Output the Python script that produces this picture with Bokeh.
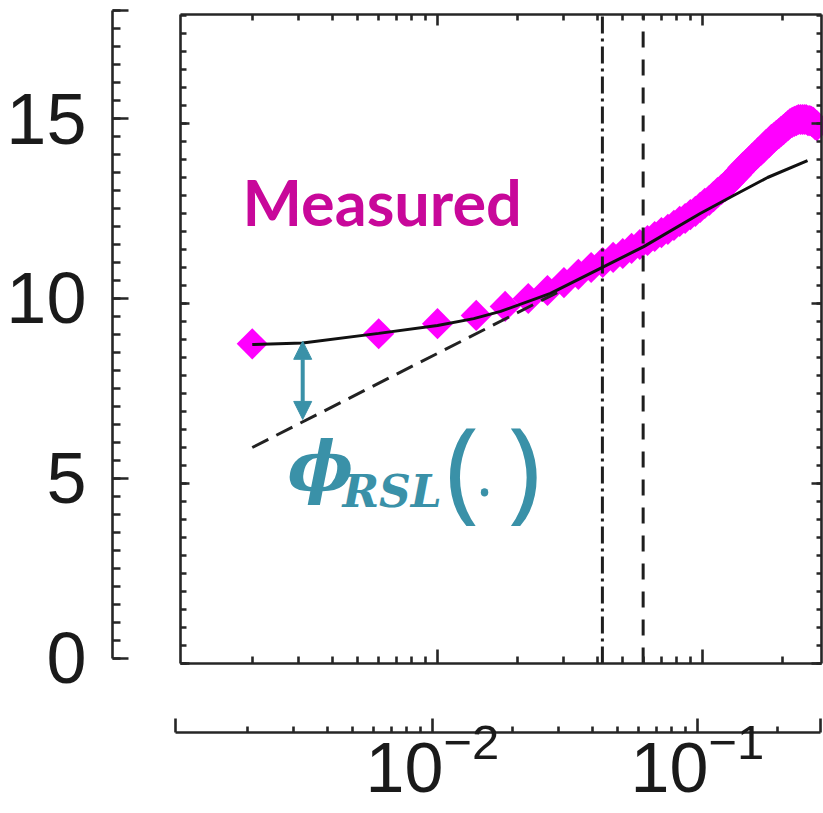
import math
from bokeh.plotting import figure
from bokeh.models import (LinearAxis, LogAxis, Range1d, FixedTicker, Label, Arrow,
                          NormalHead, ColumnDataSource, LogTickFormatter, LogScale)
from bokeh.embed import file_html
from bokeh.resources import INLINE

# ---------------- data ----------------
measured_x = [0.002, 0.006, 0.010, 0.014, 0.018, 0.022, 0.026, 0.030, 0.034, 0.038,
              0.042, 0.046, 0.050, 0.054, 0.058, 0.062, 0.066, 0.070, 0.074, 0.078,
              0.082, 0.086, 0.090, 0.094, 0.098, 0.102, 0.106, 0.110, 0.114, 0.118,
              0.122, 0.126, 0.130, 0.134, 0.138, 0.142, 0.146, 0.150, 0.154, 0.158,
              0.162, 0.166, 0.170, 0.174, 0.178, 0.182, 0.186, 0.190, 0.194, 0.198,
              0.202, 0.206, 0.210, 0.214, 0.218, 0.222, 0.226, 0.230, 0.234, 0.238,
              0.242, 0.246, 0.250, 0.254, 0.258, 0.262, 0.266, 0.270]
measured_y = [8.88, 9.16, 9.44, 9.67, 9.92, 10.14, 10.36, 10.58, 10.81, 11.00,
              11.14, 11.28, 11.39, 11.53, 11.64, 11.75, 11.86, 11.97, 12.06, 12.17,
              12.28, 12.36, 12.47, 12.56, 12.67, 12.78, 12.86, 12.97, 13.08, 13.17,
              13.25, 13.36, 13.47, 13.56, 13.67, 13.78, 13.86, 13.94, 14.03, 14.11,
              14.19, 14.25, 14.33, 14.42, 14.47, 14.56, 14.61, 14.67, 14.72, 14.78,
              14.83, 14.89, 14.94, 15.00, 15.03, 15.06, 15.08, 15.11, 15.11, 15.11,
              15.11, 15.11, 15.08, 15.08, 15.06, 15.03, 14.97, 14.94]

model_x = [0.002, 0.0031, 0.006, 0.010, 0.0137, 0.0173, 0.0267, 0.041, 0.060,
           0.098, 0.131, 0.176, 0.249]
model_y = [8.86, 8.90, 9.17, 9.39, 9.58, 9.78, 10.28, 10.97, 11.58,
           12.50, 13.00, 13.50, 13.97]

loglaw_x = [0.002, 0.030]
loglaw_y = [6.0, 10.4]

vline_dashdot_x = [0.0419]
vline_dash_x = [0.0597]

y_major_ticks = [0, 5, 10, 15]
y_minor_ticks = [0.5 * k for k in range(37)]
x_major_ticks = [0.01, 0.1]
x_minor_ticks = [0.002, 0.003, 0.004, 0.005, 0.006, 0.007, 0.008, 0.009,
                 0.02, 0.03, 0.04, 0.05, 0.06, 0.07, 0.08, 0.09, 0.2]

measured_label = "Measured"
phi_label = "\u03d5"
phi_sub_label = "RSL"

# arrow between curves (phi_RSL gap)
arrow_x = 0.0031
arrow_y_low = 6.78
arrow_y_high = 8.95

# ---------------- geometry ----------------
W, H = 823, 813
XSTART, XEND = 2.244e-4, 0.2861           # whole canvas = frame
YSTART, YEND = -4.1667, 18.4167
XOFF = (2.344e-4, 0.2989)                 # offset bottom axis range (5 px shift)
YOFF = (-4.3056, 18.2778)                 # offset left axis range (5 px shift)
XBOX0, XBOX1 = 1.072e-3, 0.2812           # boxed panel edges
YBOX0, YBOX1 = 0.0, 18.03
X_LEFT_AXIS = 5.936e-4                    # where the offset left axis sits
Y_BOTTOM_AXIS = -1.9167                   # where the offset bottom axis sits

AX = "#262626"
TEAL = "#3A91A8"
MAG = "#FF00FF"
MEAS = "#C8089A"

p = figure(width=W, height=H, x_axis_type="log",
           x_axis_location=None, y_axis_location=None,
           x_range=Range1d(XSTART, XEND), y_range=Range1d(YSTART, YEND),
           toolbar_location=None, output_backend="svg",
           min_border_left=0, min_border_right=0,
           min_border_top=0, min_border_bottom=0,
           outline_line_color=None, background_fill_color="white",
           border_fill_color="white")
p.xgrid.visible = False
p.ygrid.visible = False
p.extra_x_ranges = {"xoff": Range1d(*XOFF)}
p.extra_x_scales = {"xoff": LogScale()}
p.extra_y_ranges = {"yoff": Range1d(*YOFF)}


def style(ax, lw=2.6, line=True):
    ax.axis_line_color = AX if line else None
    ax.axis_line_width = lw
    ax.major_tick_line_color = AX
    ax.minor_tick_line_color = AX
    ax.major_tick_line_width = lw
    ax.minor_tick_line_width = lw
    ax.major_tick_out = 0
    ax.minor_tick_out = 0


def quiet(ax):
    ax.major_label_text_color = None


# ---- boxed panel (inward ticks on all four sides, no labels) ----
box_left = LinearAxis(fixed_location=XBOX0, bounds=(YBOX0, YBOX1),
                      ticker=FixedTicker(ticks=y_major_ticks, minor_ticks=y_minor_ticks))
style(box_left); quiet(box_left)
box_left.major_tick_in = 9
box_left.minor_tick_in = 6
p.add_layout(box_left, "left")

box_right = LinearAxis(fixed_location=XBOX1, bounds=(YBOX0, YBOX1),
                       ticker=FixedTicker(ticks=y_major_ticks, minor_ticks=y_minor_ticks))
style(box_right); quiet(box_right)
box_right.major_tick_in = 10
box_right.minor_tick_in = 5
p.add_layout(box_right, "right")

box_bottom = LogAxis(fixed_location=YBOX0, bounds=(XBOX0, XBOX1),
                     ticker=FixedTicker(ticks=x_major_ticks, minor_ticks=x_minor_ticks))
style(box_bottom); quiet(box_bottom)
box_bottom.major_tick_in = 14
box_bottom.minor_tick_in = 7
p.add_layout(box_bottom, "below")

box_top = LogAxis(fixed_location=YBOX1, bounds=(XBOX0, XBOX1),
                  ticker=FixedTicker(ticks=x_major_ticks, minor_ticks=x_minor_ticks))
style(box_top); quiet(box_top)
box_top.major_tick_in = 11
box_top.minor_tick_in = 6
p.add_layout(box_top, "above")

# ---- offset left axis with labels ----
yax = LinearAxis(y_range_name="yoff", fixed_location=X_LEFT_AXIS, bounds=(0, 18.0),
                 ticker=FixedTicker(ticks=y_major_ticks, minor_ticks=y_minor_ticks))
style(yax)
yax.major_tick_in = 16
yax.minor_tick_in = 8
yax.major_label_text_font = "Liberation Sans"
yax.major_label_text_font_size = "72px"
yax.major_label_text_color = "#1a1a1a"
yax.major_label_standoff = 26
p.add_layout(yax, "left")

ycap = LinearAxis(y_range_name="yoff", fixed_location=X_LEFT_AXIS,
                  ticker=FixedTicker(ticks=[18.0], minor_ticks=[]))
style(ycap, line=False); quiet(ycap)
ycap.major_tick_in = 16
p.add_layout(ycap, "left")

# ---- offset bottom axis with labels ----
xax = LogAxis(x_range_name="xoff", fixed_location=Y_BOTTOM_AXIS, bounds=(XBOX0, 0.291),
              ticker=FixedTicker(ticks=x_major_ticks, minor_ticks=x_minor_ticks),
              formatter=LogTickFormatter())
style(xax)
xax.major_tick_in = 14
xax.minor_tick_in = 6
xax.major_label_text_font = "Liberation Sans"
xax.major_label_text_font_size = "70px"
xax.major_label_text_color = "#1a1a1a"
xax.major_label_standoff = -11
p.add_layout(xax, "below")

xcap = LogAxis(x_range_name="xoff", fixed_location=Y_BOTTOM_AXIS,
               ticker=FixedTicker(ticks=[XBOX0, 0.291], minor_ticks=[]))
style(xcap, line=False); quiet(xcap)
xcap.major_tick_in = 14
p.add_layout(xcap, "below")

# ---------------- glyphs ----------------
src = ColumnDataSource(dict(x=measured_x, y=measured_y))
p.scatter("x", "y", source=src, marker="square", size=22, angle=math.pi / 4,
          fill_color=MAG, line_color=None)

p.segment(x0=vline_dashdot_x, y0=[YBOX0] * len(vline_dashdot_x),
          x1=vline_dashdot_x, y1=[YBOX1] * len(vline_dashdot_x),
          line_color="#1e1e1e", line_width=3, line_dash="17 5 3 5")
p.segment(x0=vline_dash_x, y0=[YBOX0] * len(vline_dash_x),
          x1=vline_dash_x, y1=[YBOX1] * len(vline_dash_x),
          line_color="#1e1e1e", line_width=3, line_dash="16 12")

p.line(model_x, model_y, line_color="#111111", line_width=3)
p.line(loglaw_x, loglaw_y, line_color="#222222", line_width=3, line_dash="18 9")

p.add_layout(Arrow(x_start=arrow_x, y_start=arrow_y_low, x_end=arrow_x, y_end=arrow_y_high,
                   line_color=TEAL, line_width=4,
                   start=NormalHead(size=18, fill_color=TEAL, line_color=TEAL),
                   end=NormalHead(size=18, fill_color=TEAL, line_color=TEAL)))

p.add_layout(Label(x=0.001837, y=12.83, text=measured_label, text_font="Lato",
                   text_font_style="bold", text_font_size="63px", text_color=MEAS,
                   text_baseline="alphabetic", text_align="left"))
p.add_layout(Label(x=0.002716, y=5.48, text=phi_label, text_font="DejaVu Serif",
                   text_font_style="bold italic", text_font_size="70px", text_color=TEAL,
                   text_baseline="alphabetic", text_align="left"))
p.add_layout(Label(x=0.004379, y=4.78, text=phi_sub_label, text_font="DejaVu Serif",
                   text_font_style="bold italic", text_font_size="44px", text_color=TEAL,
                   text_baseline="alphabetic", text_align="left"))
p.add_layout(Label(x=0.01072, y=5.54, text="(", text_font="Noto Sans",
                   text_font_size="112px", text_color=TEAL,
                   text_baseline="alphabetic", text_align="left"))
p.add_layout(Label(x=0.01404, y=5.25, text=".", text_font="Noto Sans",
                   text_font_size="60px", text_color=TEAL,
                   text_baseline="alphabetic", text_align="left"))
p.add_layout(Label(x=0.01837, y=5.54, text=")", text_font="Noto Sans",
                   text_font_size="112px", text_color=TEAL,
                   text_baseline="alphabetic", text_align="left"))

open("out.html", "w").write(file_html(p, INLINE))
